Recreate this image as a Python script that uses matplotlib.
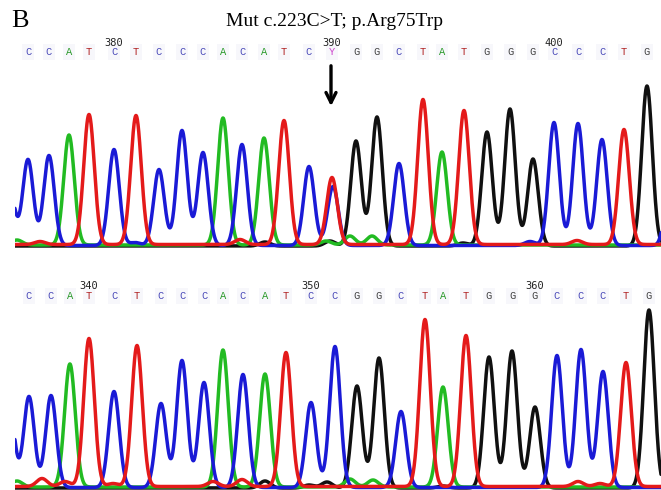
import numpy as np
import matplotlib
matplotlib.use("Agg")
import matplotlib.pyplot as plt
from matplotlib.transforms import blended_transform_factory

# base calls shown above each trace
top_calls = "CCATCTCCCACATCYGGCTATGGGCCCTG"
top_call_pos = [28, 49, 69, 89, 114, 136, 159, 182, 203, 223, 242, 264, 284, 309, 332,
                356, 377, 399, 423, 442, 464, 487, 510, 533, 554, 578, 602, 624, 647]
top_first_base = 376

bot_calls = "CCATCTCCCACATCCGGCTATGGGCCCTG"
bot_call_pos = [29, 51, 70, 89, 114, 137, 161, 182, 204, 223, 243, 265, 286, 311, 335,
                357, 379, 401, 425, 443, 466, 489, 512, 535, 557, 581, 603, 626, 649]
bot_first_base = 337

# peaks of the four dye channels (main peaks + small background bumps)
top_peak_ch = "CCCATCTCCCACATCTCGGCTATGGGCCCTGC" + "ATCTGAGAAGCT"
top_peak_pos = [9, 28, 49, 69, 89, 114, 136, 159, 182, 203, 223, 242, 264, 284, 309, 332, 333,
                356, 377, 399, 423, 442, 464, 487, 510, 533, 554, 578, 602, 624, 647, 672,
                17, 40, 135, 240, 265, 326, 330, 350, 372, 463, 530, 577]
top_peak_h = [62, 86, 90, 110, 130, 96, 129, 76, 115, 93, 127, 101, 107, 124, 79, 67, 59,
              105, 129, 82, 145, 93, 134, 114, 137, 87, 123, 122, 106, 115, 160, 110,
              5, 3, 3, 5, 4, 4, 5, 9, 9, 3, 4, 4]

bot_peak_ch = "CCCATCTCCCACATCCGGCTATGGGCCCTG" + "ATTATTTGGGAAGTT"
bot_peak_pos = [9, 29, 51, 70, 89, 114, 137, 161, 182, 204, 223, 243, 265, 286, 311, 335,
                357, 379, 401, 425, 443, 466, 489, 512, 535, 557, 581, 603, 626, 649,
                17, 42, 65, 66, 113, 213, 242, 265, 309, 327, 350, 373, 443, 578, 600]
bot_peak_h = [85, 91, 92, 120, 148, 96, 141, 84, 127, 105, 137, 113, 113, 134, 85, 141,
              102, 130, 76, 167, 100, 151, 131, 137, 81, 132, 138, 116, 124, 178,
              6, 8, 5, 4, 3, 5, 7, 7, 3, 6, 8, 7, 2, 5, 3]

trace_col = {"G": "#101010", "A": "#22bb22", "C": "#1a1ad6", "T": "#e41a1a"}
call_col = {"G": "#404040", "A": "#2a9a2a", "C": "#4848b8", "T": "#b02222", "Y": "#cc44cc"}
offset = {"G": 0.0, "A": 1.0, "C": 0.5, "T": 1.5}
W, H = 661, 490
SIGMA = 5.3


def fy(py):
    return 1 - py / H


def draw_trace(ax, chans, pos, heights):
    x = np.linspace(0, 690, 3000)
    for ch in "GACT":
        y = np.full_like(x, offset[ch])
        for c, p, h in zip(chans, pos, heights):
            if c == ch:
                y += h * np.exp(-(x - p) ** 2 / (2 * SIGMA ** 2))
        ax.plot(x, y, color=trace_col[ch], lw=2.5, solid_capstyle="round")


def draw_calls(fig, ax, calls, pos, first, y_letter, y_num):
    tr = blended_transform_factory(ax.transData, fig.transFigure)
    for i, (b, p) in enumerate(zip(calls, pos)):
        ax.text(p, fy(y_letter), b, transform=tr, ha="center", va="center",
                fontsize=7.5, family="Liberation Mono", color=call_col[b],
                bbox=dict(boxstyle="square,pad=0.25", fc="#f7f7fb", ec="none"))
        if (first + i) % 10 == 0:
            ax.text(p, fy(y_num), str(first + i), transform=tr, ha="center",
                    va="center", fontsize=7.5, family="DejaVu Sans Mono", color="#222222")


fig = plt.figure(figsize=(W / 100, H / 100), dpi=100)
fig.patch.set_facecolor("white")

ax1 = fig.add_axes([15 / W, fy(248), 646 / W, 172 / H])
ax2 = fig.add_axes([15 / W, 0, 646 / W, 192 / H])
for ax in (ax1, ax2):
    ax.set_xlim(15, 661)
    ax.axis("off")
ax1.set_ylim(-2, 170)
ax2.set_ylim(-2, 190)

draw_trace(ax1, top_peak_ch, top_peak_pos, top_peak_h)
draw_trace(ax2, bot_peak_ch, bot_peak_pos, bot_peak_h)

draw_calls(fig, ax1, top_calls, top_call_pos, top_first_base, 52, 43)
draw_calls(fig, ax2, bot_calls, bot_call_pos, bot_first_base, 296, 286)

# arrow pointing at the heterozygous call
tr1 = blended_transform_factory(ax1.transData, fig.transFigure)
y_idx = top_calls.index("Y")
ax1.annotate("", xy=(top_call_pos[y_idx] - 1, fy(109)), xytext=(top_call_pos[y_idx] - 1, fy(63)),
             xycoords=tr1, textcoords=tr1,
             arrowprops=dict(arrowstyle="->", lw=2.4, color="black", mutation_scale=18))

fig.text(11 / W, fy(21), "B", fontsize=19, family="Liberation Serif", va="center", ha="left")
fig.text(335 / W, fy(22), "Mut c.223C>T; p.Arg75Trp", fontsize=14,
         family="Liberation Serif", va="center", ha="center")

fig.savefig("out.png", dpi=100)
